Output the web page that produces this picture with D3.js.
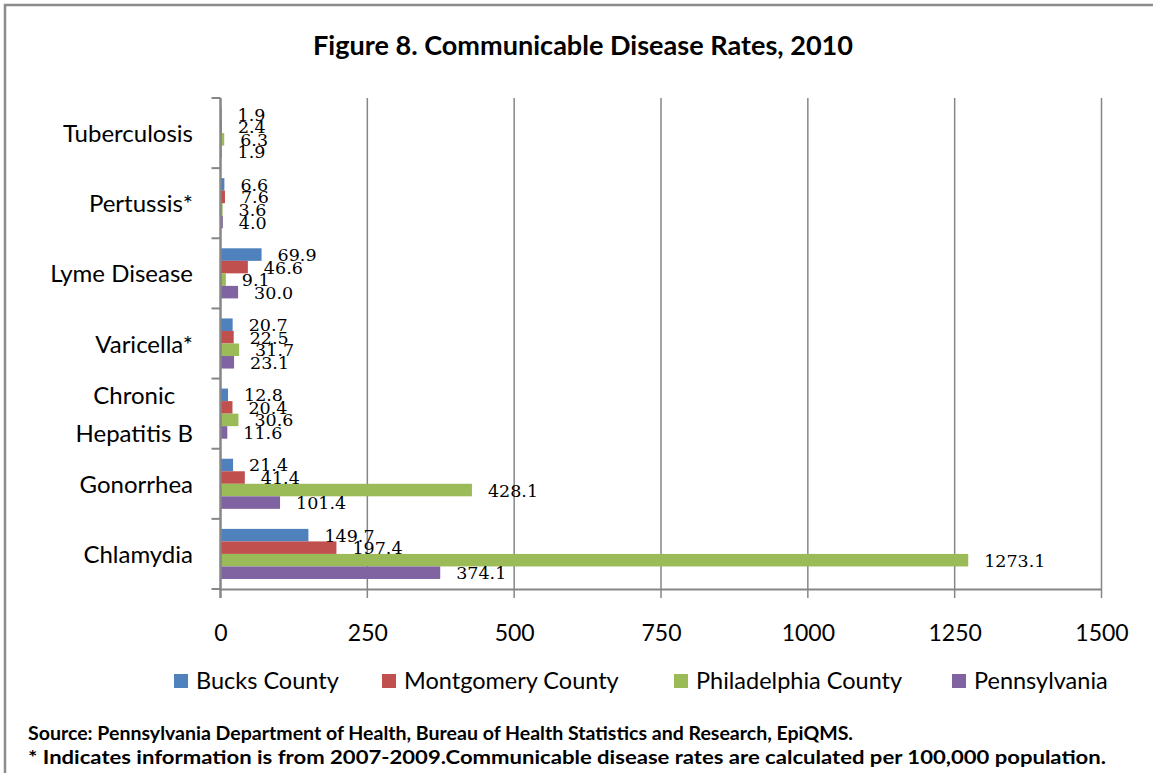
<!DOCTYPE html>
<html><head><meta charset="utf-8">
<script src="https://cdn.jsdelivr.net/npm/d3@7"></script>
<style>body{margin:0;background:#fff}svg{display:block}</style>
</head><body>
<svg id="c" width="1153" height="773"></svg>
<script>
const categories = ["Tuberculosis","Pertussis*","Lyme Disease","Varicella*","Chronic Hepatitis B","Gonorrhea","Chlamydia"];
const categoryLines = [["Tuberculosis"],["Pertussis*"],["Lyme Disease"],["Varicella*"],["Chronic","Hepatitis B"],["Gonorrhea"],["Chlamydia"]];
const seriesNames = ["Bucks County","Montgomery County","Philadelphia County","Pennsylvania"];
const seriesColors = ["#4F81BD","#C0504D","#9BBB59","#8064A2"];
const bucks = [1.9,6.6,69.9,20.7,12.8,21.4,149.7];
const montgomery = [2.4,7.6,46.6,22.5,20.4,41.4,197.4];
const philadelphia = [6.3,3.6,9.1,31.7,30.6,428.1,1273.1];
const pennsylvania = [1.9,4.0,30.0,23.1,11.6,101.4,374.1];
const xTicks = [0,250,500,750,1000,1250,1500];
const title = "Figure 8. Communicable Disease Rates, 2010";
const footer1 = "Source: Pennsylvania Department of Health, Bureau of Health Statistics and Research, EpiQMS.";
const footer2 = "* Indicates information is from 2007-2009.Communicable disease rates are calculated per 100,000 population.";

const seriesValues = [bucks, montgomery, philadelphia, pennsylvania];
const svg = d3.select("#c");
const grey = "#868686";
const sans = "Lato, 'Noto Sans', sans-serif";

// outer frame
svg.append("rect").attr("x",5).attr("y",5).attr("width",1160).attr("height",790)
  .attr("fill","none").attr("stroke","#8c8c8c").attr("stroke-width",2.5);

// title
svg.append("text").attr("x",583).attr("y",55).attr("text-anchor","middle")
  .attr("font-family",sans).attr("font-weight","bold").attr("font-size",26).attr("fill","#000")
  .attr("textLength",540).attr("lengthAdjust","spacingAndGlyphs")
  .text(title);

const pLeft = 220.5, pRight = 1101.5, pTop = 98, pBottom = 589;
const x = d3.scaleLinear().domain([0,1500]).range([pLeft,pRight]);
const y0 = d3.scaleBand().domain(categories).range([pTop,pBottom]).padding(0);
const y1 = d3.scaleBand().domain(seriesNames).range([0,y0.bandwidth()]).paddingInner(0).paddingOuter(0.8);

// gridlines
svg.append("g").selectAll("line").data(xTicks.slice(1)).join("line")
  .attr("x1",d=>x(d)).attr("x2",d=>x(d)).attr("y1",pTop).attr("y2",pBottom+9)
  .attr("stroke",grey).attr("stroke-width",1.5);

// bars
const rows = [];
categories.forEach((c,i)=>seriesNames.forEach((s,j)=>rows.push({c,s,j,v:seriesValues[j][i]})));
svg.append("g").selectAll("rect").data(rows).join("rect")
  .attr("x",x(0)).attr("y",d=>y0(d.c)+y1(d.s)).attr("width",d=>x(d.v)-x(0))
  .attr("height",y1.bandwidth()).attr("fill",d=>seriesColors[d.j]);

// x axis
const xAxis = svg.append("g").attr("transform",`translate(0,${pBottom})`)
  .call(d3.axisBottom(x).tickValues(xTicks).tickSize(0).tickPadding(36).tickFormat(d3.format("d")));
xAxis.select(".domain").attr("stroke",grey).attr("stroke-width",2);
xAxis.selectAll("text").attr("font-family",sans).attr("font-size",23).attr("fill","#000");

// y axis
const yTickPos = d3.range(categories.length+1).map(i=>pTop+i*y0.step());
svg.append("line").attr("x1",pLeft).attr("x2",pLeft).attr("y1",pTop).attr("y2",pBottom+9)
  .attr("stroke",grey).attr("stroke-width",2.5);
svg.append("g").selectAll("line").data(yTickPos).join("line")
  .attr("x1",pLeft-9).attr("x2",pLeft).attr("y1",d=>d).attr("y2",d=>d)
  .attr("stroke",grey).attr("stroke-width",2);

// category labels
const catG = svg.append("g").attr("font-family",sans).attr("font-size",24).attr("fill","#000");
categories.forEach((c,i)=>{
  const lines = categoryLines[i];
  const cy = y0(c)+y0.bandwidth()/2;
  const g = catG.append("g");
  const t = g.selectAll("text").data(lines).join("text")
    .attr("y",(d,k)=>cy+(k-(lines.length-1)/2)*38+9)
    .attr("text-anchor","middle").text(d=>d);
  let maxW = 0; t.each(function(){maxW=Math.max(maxW,this.getComputedTextLength());});
  t.attr("x",193-maxW/2);
});

// data labels
svg.append("g").selectAll("text").data(rows).join("text")
  .attr("x",d=>x(d.v)+16).attr("y",d=>y0(d.c)+y1(d.s)+y1.bandwidth()/2+6.5)
  .attr("font-family","'DejaVu Serif', serif").attr("font-size",17.5).attr("fill","#000")
  .text(d=>d.v.toFixed(1));

// legend
const legX = [174,382,674,952];
const leg = svg.append("g").selectAll("g").data(seriesNames).join("g")
  .attr("transform",(d,i)=>`translate(${legX[i]},674)`);
leg.append("rect").attr("width",14).attr("height",14).attr("fill",(d,i)=>seriesColors[i]);
leg.append("text").attr("x",22).attr("y",15).attr("font-family",sans).attr("font-size",23.5)
  .attr("fill","#000").text(d=>d);

// footer
const foot = svg.append("g").attr("font-family",sans).attr("font-weight","bold").attr("font-size",19).attr("fill","#000")
  .attr("lengthAdjust","spacingAndGlyphs");
foot.append("text").attr("x",28).attr("y",740).attr("textLength",825).attr("lengthAdjust","spacingAndGlyphs").text(footer1);
foot.append("text").attr("x",28).attr("y",764).attr("textLength",1078).attr("lengthAdjust","spacingAndGlyphs").text(footer2);
</script>
</body></html>
